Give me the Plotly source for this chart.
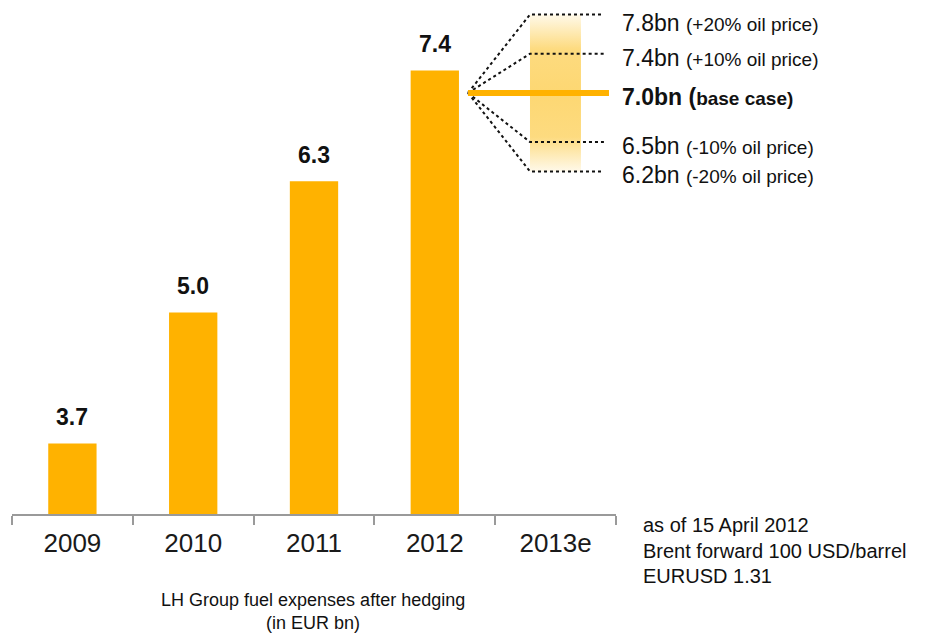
import plotly.graph_objects as go

# ---- data ----
years = ["2009", "2010", "2011", "2012", "2013e"]
fuel_expenses = [3.7, 5.0, 6.3, 7.4]          # EUR bn, after hedging
sens_values = [7.8, 7.4, 7.0, 6.5, 6.2]        # 2013e scenarios, EUR bn
sens_labels = ["(+20% oil price)", "(+10% oil price)", "(base case)",
               "(-10% oil price)", "(-20% oil price)"]
base_value = 7.0
note_lines = ["as of 15 April 2012", "Brent forward 100 USD/barrel", "EURUSD 1.31"]
caption = "LH Group fuel expenses after hedging<br>(in EUR bn)"

# ---- style ----
BAR = "#FFB200"
FONT = "Liberation Sans, Arial, sans-serif"
X_FAN0, X_FAN1, X_SHADE1, X_DOT_END, X_BASE_END = 3.275, 3.788, 4.21, 4.40, 4.442

fig = go.Figure()

fig.add_trace(go.Bar(
    x=list(range(len(fuel_expenses))), y=fuel_expenses, width=0.4,
    marker=dict(color=BAR, line=dict(width=0)),
    showlegend=False, hoverinfo="skip",
))

# shaded gradient band for scenario range
top, bot = max(sens_values), min(sens_values)
fig.add_trace(go.Scatter(
    x=[X_FAN1, X_SHADE1, X_SHADE1, X_FAN1, X_FAN1],
    y=[top, top, bot, bot, top], yaxis="y2",
    mode="lines", line=dict(width=0), fill="toself",
    fillgradient=dict(type="vertical", colorscale=[
        [0.0, "rgba(253,214,110,0.15)"], [0.22, "rgba(253,214,110,0.88)"],
        [0.5, "rgba(253,214,110,0.97)"], [0.78, "rgba(253,214,110,0.88)"],
        [1.0, "rgba(253,214,110,0.15)"]]),
    showlegend=False, hoverinfo="skip",
))

# dotted fan lines
for v in sens_values:
    if v == base_value:
        continue
    fig.add_trace(go.Scatter(
        x=[X_FAN0, X_FAN1, X_DOT_END], y=[base_value, v, v], yaxis="y2",
        mode="lines", line=dict(color="#111111", width=2, dash="dot"),
        showlegend=False, hoverinfo="skip", cliponaxis=False,
    ))

# base case line
fig.add_trace(go.Scatter(
    x=[X_FAN0, X_BASE_END], y=[base_value, base_value], yaxis="y2",
    mode="lines", line=dict(color=BAR, width=6),
    showlegend=False, hoverinfo="skip", cliponaxis=False,
))

annotations = []
# bar value labels
for i, v in enumerate(fuel_expenses):
    annotations.append(dict(
        x=i, y=v, xref="x", yref="y", xanchor="center", yanchor="bottom",
        text=f"<b>{v:.1f}</b>", showarrow=False, yshift=11,
        font=dict(family=FONT, size=23, color="#111111"),
    ))

for v, lab in zip(sens_values, sens_labels):
    if v == base_value:
        txt = f"<b>{v:.1f}bn (<span style='font-size:19px'>{lab[1:]}</span></b>"
    else:
        txt = f"{v:.1f}bn <span style='font-size:19px'>{lab}</span>"
    annotations.append(dict(
        x=1.007, xref="paper", y=v, yref="y2", xanchor="left", yanchor="middle",
        text=txt, showarrow=False, yshift=-8 if v == top else -4,
        font=dict(family=FONT, size=23, color="#111111"),
    ))

for i, line in enumerate(note_lines):
    annotations.append(dict(
        x=1.041, xref="paper", y=(514 - (525 + 25.5 * i)) / 504, yref="paper",
        xanchor="left", yanchor="middle", text=line, showarrow=False,
        font=dict(family=FONT, size=20, color="#111111"),
    ))

annotations.append(dict(
    x=0.498, xref="paper", y=(514 - 611) / 504, yref="paper",
    xanchor="center", yanchor="middle", text=caption, showarrow=False,
    font=dict(family=FONT, size=18, color="#111111"),
))

fig.update_layout(
    width=936, height=631,
    margin=dict(l=4, r=328, t=2, b=125),
    paper_bgcolor="white", plot_bgcolor="white",
    xaxis=dict(
        range=[-0.5, 4.5], tickmode="array",
        tickvals=list(range(len(years))), ticktext=years,
        ticks="", showline=True, linecolor="#9a9a9a", linewidth=1.5,
        showgrid=False, zeroline=False, ticklabelstandoff=5,
        tickfont=dict(family=FONT, size=26, color="#1a1a1a"),
        minor=dict(tickmode="array", tickvals=[i - 0.5 for i in range(len(years) + 1)],
                   ticks="outside", ticklen=9, tickcolor="#9a9a9a", tickwidth=1.5,
                   showgrid=False),
    ),
    yaxis=dict(range=[3, 8], visible=False, showgrid=False, zeroline=False),
    yaxis2=dict(range=[2.706, 7.846], overlaying="y", visible=False,
                showgrid=False, zeroline=False),
    annotations=annotations,
)

fig.write_html("out.html")
